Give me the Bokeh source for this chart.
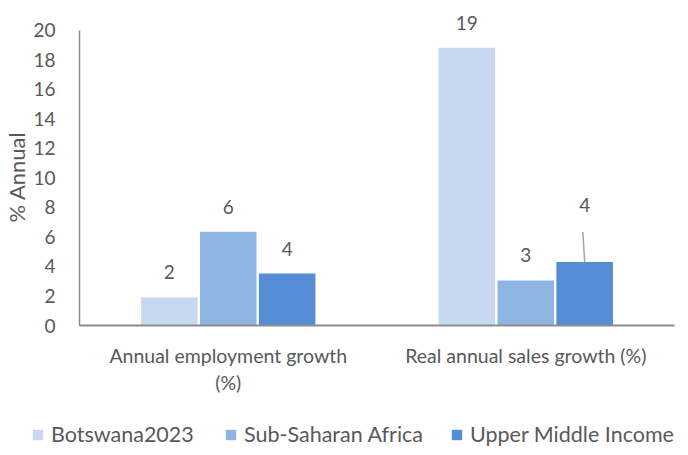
from bokeh.plotting import figure
from bokeh.layouts import column
from bokeh.models import (ColumnDataSource, LabelSet, Legend, LegendItem,
                          FixedTicker, Range1d, FactorRange)
from bokeh.transform import dodge
from bokeh.core.properties import value
from bokeh.embed import file_html
from bokeh.resources import INLINE

# ---- data ----
categories = ["Annual employment growth\n(%)", "Real annual sales growth (%)"]
series = ["Botswana2023", "Sub-Saharan Africa", "Upper Middle Income"]
botswana = [1.9, 18.8]
ssa = [6.35, 3.05]
umi = [3.52, 4.3]
y_ticks = [0, 2, 4, 6, 8, 10, 12, 14, 16, 18, 20]
y_title = "% Annual"

colors = ["#C6D9F0", "#8EB4E2", "#558ED5"]
text_color = "#595959"
axis_color = "#8C8C8C"
FONT = "Lato"
FS = "19px"
FS_CAT = "19.5px"
FS_BIG = "22px"
FS_LEG = "21.5px"

W = 676
W_LEG = 676
MAIN_H = 410
LEG_H = 447 - MAIN_H
Y_END = 22.0
FRAME_H = 325
PX_PER_UNIT = FRAME_H / Y_END
LEADER_PX = 30

def fmt(v):
    return "%d" % int(v + 0.5)

src = ColumnDataSource(dict(
    cat=categories,
    botswana=botswana, ssa=ssa, umi=umi,
    lab_b=[fmt(v) for v in botswana],
    lab_s=[fmt(v) for v in ssa],
    lab_u=[fmt(v) for v in umi],
    off_u=[25, 25 + LEADER_PX + 2],
))

# leader line only for second category's Upper Middle Income label
lead_src = ColumnDataSource(dict(
    cat=[categories[1]],
    y0=[umi[1]],
    y1=[umi[1] + LEADER_PX / PX_PER_UNIT],
))

p = figure(width=W, height=MAIN_H, output_backend="svg", toolbar_location=None,
           x_range=FactorRange(factors=categories, range_padding=0),
           y_range=Range1d(0, Y_END),
           min_border_left=74, min_border_right=2,
           min_border_top=0, min_border_bottom=MAIN_H - FRAME_H)
p.frame_align = False
p.outline_line_color = None
p.xgrid.visible = False
p.ygrid.visible = False
p.background_fill_color = "white"
p.border_fill_color = "white"

offsets = [-0.198, 0.0, 0.198]
fields = ["botswana", "ssa", "umi"]
labfields = ["lab_b", "lab_s", "lab_u"]
for off, f, c in zip(offsets, fields, colors):
    p.vbar(x=dodge("cat", off, range=p.x_range), top=f, width=0.19,
           source=src, fill_color=c, line_color=None)

p.segment(x0=dodge("cat", 0.198, range=p.x_range), y0="y0",
          x1=dodge("cat", 0.192, range=p.x_range), y1="y1",
          source=lead_src, line_color="#A6A6A6", line_width=1.5)

for off, f, lf in zip(offsets, fields, labfields):
    yoff = "off_u" if lf == "lab_u" else 25
    ls = LabelSet(x=dodge("cat", off, range=p.x_range), y=f, text=lf,
                  source=src, y_offset=yoff, text_align="center",
                  text_baseline="middle", text_font=value(FONT),
                  text_font_size=value(FS), text_color=text_color)
    p.add_layout(ls)

# axes
p.yaxis.ticker = FixedTicker(ticks=y_ticks)
p.yaxis.bounds = (0, 20)
p.yaxis.major_tick_line_color = None
p.yaxis.major_tick_out = 0
p.yaxis.major_tick_in = 0
p.yaxis.minor_tick_line_color = None
p.yaxis.axis_line_color = axis_color
p.yaxis.axis_line_width = 1.5
p.yaxis.major_label_standoff = 24
p.yaxis.major_label_text_font = FONT
p.yaxis.major_label_text_font_size = FS
p.yaxis.major_label_text_color = text_color
# trailing no-break spaces keep the title centred on the 0-20 span
p.yaxis.axis_label = y_title + "\u00a0" * 5
p.yaxis.axis_label_text_font = FONT
p.yaxis.axis_label_text_font_size = FS_BIG
p.yaxis.axis_label_text_font_style = "normal"
p.yaxis.axis_label_text_color = text_color
p.yaxis.axis_label_standoff = 0

p.xaxis.major_tick_line_color = None
p.xaxis.major_tick_out = 0
p.xaxis.major_tick_in = 0
p.xaxis.minor_tick_line_color = None
p.xaxis.axis_line_color = axis_color
p.xaxis.axis_line_width = 2
p.xaxis.major_label_standoff = 18
p.xaxis.major_label_text_font = FONT
p.xaxis.major_label_text_font_size = FS_CAT
p.xaxis.major_label_text_color = text_color

# ---- legend strip (its renderers are hidden; only the legend shows) ----
lp = figure(width=W_LEG, height=LEG_H, output_backend="svg", toolbar_location=None,
            x_range=FactorRange(factors=categories), y_range=Range1d(0, 25),
            x_axis_type=None, y_axis_type=None,
            min_border=0, min_border_left=0, min_border_right=0,
            min_border_top=0, min_border_bottom=0)
lp.frame_align = False
lp.outline_line_color = None
lp.grid.visible = False
lp.background_fill_color = "white"
lp.border_fill_color = "white"

legend_x = [31, 224, 450]
for s, f, c, lx in zip(series, fields, colors, legend_x):
    r = lp.vbar(x="cat", top=f, width=0.19, source=src, fill_color=c, line_color=None)
    r.visible = False
    lg = Legend(items=[LegendItem(label=s, renderers=[r])],
                orientation="horizontal", location=(lx, 0),
                glyph_width=13, glyph_height=13, label_standoff=7,
                padding=0, margin=0, click_policy="none",
                inactive_fill_alpha=0,
                border_line_color=None, background_fill_alpha=0,
                label_text_font=FONT, label_text_font_size=FS_LEG,
                label_text_color=text_color)
    lp.add_layout(lg)

layout = column(p, lp, spacing=0)
open("out.html", "w").write(file_html(layout, INLINE))
